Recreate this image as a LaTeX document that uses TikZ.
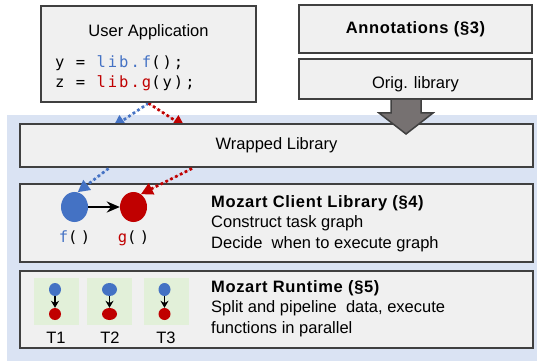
\documentclass[tikz,border=0pt]{standalone}
\usepackage{fontspec}
\setmainfont{Liberation Sans}
\newfontfamily\codefont{DejaVu Sans Mono}[LetterSpace=13]
\usetikzlibrary{arrows.meta,shapes.geometric}
\pgfdeclarelayer{bg}
\pgfsetlayers{bg,main}
\definecolor{boxfill}{HTML}{F0F0F0}
\definecolor{boxline}{HTML}{404040}
\definecolor{bgblue}{HTML}{DAE3F3}
\definecolor{fblue}{HTML}{4472C4}
\definecolor{gred}{HTML}{C00000}
\definecolor{tgreen}{HTML}{E2F0D9}
\definecolor{arrowgray}{HTML}{767171}
\begin{document}
\begin{tikzpicture}[x=1pt,y=-1pt,
  box/.style={draw=boxline,line width=2.5pt,fill=boxfill,inner sep=0pt},
  txt/.style={font=\fontsize{16.5}{20.5}\selectfont,inner sep=0pt,text=black},
  code/.style={font=\codefont\fontsize{15.5}{20}\selectfont,inner sep=0pt,text=black},
  dotarrow/.style={line width=2.7pt,dash pattern=on 2.7pt off 2.7pt,-{Triangle[length=12pt,width=12pt]}},
  bigdot/.style={ellipse,inner sep=0pt,minimum width=27pt,minimum height=30pt},
  smalldot/.style={ellipse,inner sep=0pt,minimum height=13pt},
  taskbox/.style={fill=tgreen,inner sep=0pt,minimum width=45pt,minimum height=47pt},
  smallarrow/.style={line width=1.6pt,-{Stealth[length=7pt,width=8pt]}}
]
\useasboundingbox (0,0) rectangle (537,363);

% boxes
\node[box,minimum width=215pt,minimum height=96pt] (ua) at (148.5,54) {};
\node[box,minimum width=233pt,minimum height=48pt] (ann) at (415.5,29) {};
\node[box,minimum width=233pt,minimum height=40pt] (orig) at (415.5,79) {};
\node[box,minimum width=513pt,minimum height=43pt] (wl) at (276.5,145.5) {};
\node[box,minimum width=513pt,minimum height=78pt] (mcl) at (276.5,223) {};
\node[box,minimum width=513pt,minimum height=77pt] (mrt) at (276.5,309.5) {};

% texts
\node[txt,anchor=base] (uat) at (148.5,37) {User Application};
\node[code,anchor=base west] (c1) at (55,68) {y = \textcolor{fblue}{lib.f}();};
\node[code,anchor=base west] (c2) at (55,88) {z = \textcolor{gred}{lib.g}(y);};
\node[txt,anchor=base] (annt) at (415.5,34) {\bfseries\addfontfeatures{LetterSpace=4}Annotations (§3)};
\node[txt,anchor=base] (origt) at (415.5,89) {Orig. library};
\node[txt,anchor=base] (wlt) at (276.5,150) {Wrapped Library};
\node[txt,anchor=base west,align=left] (mclt) at (211,248)
  {{\bfseries\addfontfeatures{LetterSpace=4}Mozart Client Library (§4)}\\Construct task graph\\Decide~ when to execute graph};
\node[txt,anchor=base west,align=left] (mrtt) at (211,333)
  {{\bfseries\addfontfeatures{LetterSpace=4}Mozart Runtime (§5)}\\Split and pipeline~ data, execute\\functions in parallel};

% lower dotted connectors (from Wrapped Library into the circles)
\coordinate (wloutf) at (108.5,168.5);
\coordinate (wloutg) at (192,168.5);
\node[bigdot] (f) at (74.5,207) {};
\node[bigdot] (g) at (133.5,207) {};
\draw[dotarrow,draw=fblue,fill=fblue] (wloutf) -- (f.78);
\draw[dotarrow,draw=gred,fill=gred] (wloutg) -- (g.60);
\fill[fblue] (f.center) ellipse[x radius=13.5pt,y radius=15pt];
\fill[gred] (g.center) ellipse[x radius=13.5pt,y radius=15pt];
\draw[line width=2.5pt,-{Stealth[length=13pt,width=11pt]}] (f) -- (g);
\node[code,anchor=base] (fl) at (74.5,242) {\addfontfeatures{LetterSpace=22}\textcolor{fblue}{f}()};
\node[code,anchor=base] (gl) at (133.5,242) {\addfontfeatures{LetterSpace=22}\textcolor{gred}{g}()};

% runtime tasks
\node[taskbox] (tb1) at (56.5,301.5) {};
\node[taskbox] (tb2) at (109.5,301.5) {};
\node[taskbox] (tb3) at (166.5,301.5) {};
\node[smalldot,fill=fblue,minimum width=12pt] (t1a) at (55,289.5) {};
\node[smalldot,fill=gred,minimum width=12pt,minimum height=12pt] (t1b) at (55,314) {};
\node[smalldot,fill=fblue,minimum width=15pt] (t2a) at (109.5,289.5) {};
\node[smalldot,fill=gred,minimum width=15pt,minimum height=12pt] (t2b) at (109.5,314) {};
\node[smalldot,fill=fblue,minimum width=12pt] (t3a) at (164.5,289.5) {};
\node[smalldot,fill=gred,minimum width=12pt,minimum height=12pt] (t3b) at (164.5,314) {};
\draw[smallarrow] (t1a) -- (t1b);
\draw[smallarrow] (t2a) -- (t2b);
\draw[smallarrow] (t3a) -- (t3b);
\node[txt,anchor=base] (l1) at (56,343) {T1};
\node[txt,anchor=base] (l2) at (110,343) {T2};
\node[txt,anchor=base] (l3) at (166,343) {T3};

% big gray arrow
\fill[arrowgray] (391,100) -- (391,113) -- (379,113) -- (406,134) -- (433,113) -- (421,113) -- (421,100) -- cycle;
\draw[boxline,line width=1.5pt,line join=miter] (391,100) -- (391,113) -- (379,113) -- (406,134) -- (433,113) -- (421,113) -- (421,100);

% background layer: blue area and upper dotted connectors
\coordinate (wlinf) at (113,127);
\coordinate (wling) at (185,127);
\begin{pgfonlayer}{bg}
\fill[bgblue] (7,115) rectangle (537,361);
\draw[dotarrow,draw=fblue,fill=fblue] (ua.south) -- (wlinf);
\draw[dotarrow,draw=gred,fill=gred] (ua.south) -- (wling);
\end{pgfonlayer}
\end{tikzpicture}
\end{document}
